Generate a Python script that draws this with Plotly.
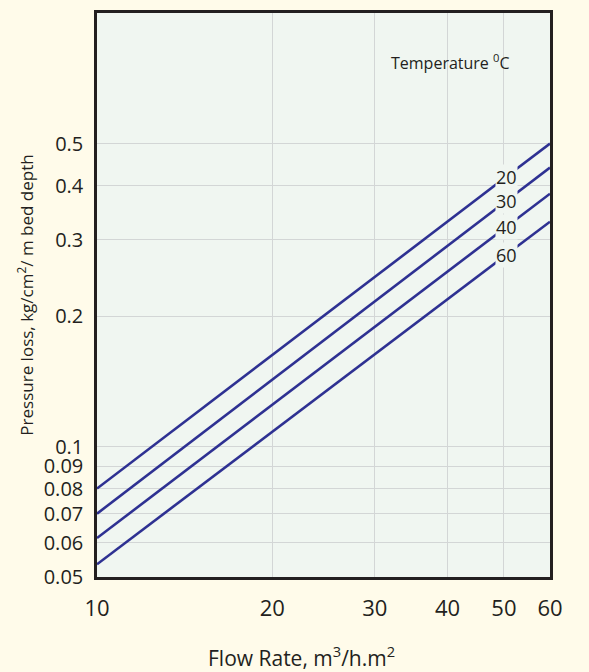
import numpy as np
import plotly.graph_objects as go

flow = [10, 60]
temps = ["20", "30", "40", "60"]
loss = {
    "20": [0.080, 0.50],
    "30": [0.070, 0.44],
    "40": [0.0615, 0.383],
    "60": [0.0535, 0.330],
}
x_ticks = [10, 20, 30, 40, 50, 60]
y_ticks = [0.05, 0.06, 0.07, 0.08, 0.09, 0.1, 0.2, 0.3, 0.4, 0.5]
y_tick_text = ["0.05", "0.06", "0.07", "0.08", "0.09", "0.1", "0.2", "0.3", "0.4", "0.5"]
label_x = 50.5

LINE = "#2e3192"
PLOT_BG = "#f0f6f1"
PAPER_BG = "#fffbea"
FONT = "Open Sans"
TXT = "#231f20"

fig = go.Figure()
for t in temps:
    fig.add_trace(go.Scatter(x=flow, y=loss[t], mode="lines",
                             line=dict(color=LINE, width=2.6), showlegend=False,
                             hoverinfo="skip"))
    lx = np.log10(flow)
    ly = np.log10(loss[t])
    yv = 10 ** np.interp(np.log10(label_x), lx, ly)
    fig.add_annotation(x=np.log10(label_x), y=np.log10(yv), text=t, showarrow=False,
                       font=dict(family=FONT, size=18, color=TXT),
                       bgcolor=PLOT_BG, borderpad=0)

fig.add_annotation(x=(450 - 97) / (550 - 97), y=(577 - 59) / (577 - 10),
                   xref="paper", yref="paper",
                   text="Temperature <sup>0</sup>C", showarrow=False,
                   xanchor="center", yanchor="middle",
                   font=dict(family=FONT, size=16, color=TXT))
fig.add_annotation(x=(301 - 97) / (550 - 97), y=-(657 - 577) / (577 - 10),
                   xref="paper", yref="paper",
                   text="Flow Rate, m<sup>3</sup>/h.m<sup>2</sup>", showarrow=False,
                   xanchor="center", yanchor="middle",
                   font=dict(family=FONT, size=21, color=TXT))

fig.update_xaxes(type="log", range=[np.log10(10), np.log10(60)],
                 tickvals=x_ticks, ticktext=[str(v) for v in x_ticks],
                 showgrid=True, gridcolor="#d3d6d6", gridwidth=1.2,
                 showline=True, linecolor=TXT, linewidth=2.5, mirror=True,
                 ticks="", ticklabelstandoff=10, zeroline=False,
                 tickfont=dict(family=FONT, size=22, color=TXT))
fig.update_yaxes(type="log", range=[np.log10(0.05), 0.0],
                 tickvals=y_ticks, ticktext=y_tick_text,
                 showgrid=True, gridcolor="#d3d6d6", gridwidth=1.2,
                 showline=True, linecolor=TXT, linewidth=2.5, mirror=True,
                 ticks="", ticklabelstandoff=7, zeroline=False,
                 tickfont=dict(family=FONT, size=20, color=TXT),
                 title=dict(text="Pressure loss, kg/cm<sup>2</sup>/ m bed depth",
                            font=dict(family=FONT, size=17, color=TXT),
                            standoff=6))

fig.update_layout(width=589, height=672,
                  margin=dict(l=97, r=39, t=10, b=95),
                  plot_bgcolor=PLOT_BG, paper_bgcolor=PAPER_BG)

fig.write_html("out.html")
